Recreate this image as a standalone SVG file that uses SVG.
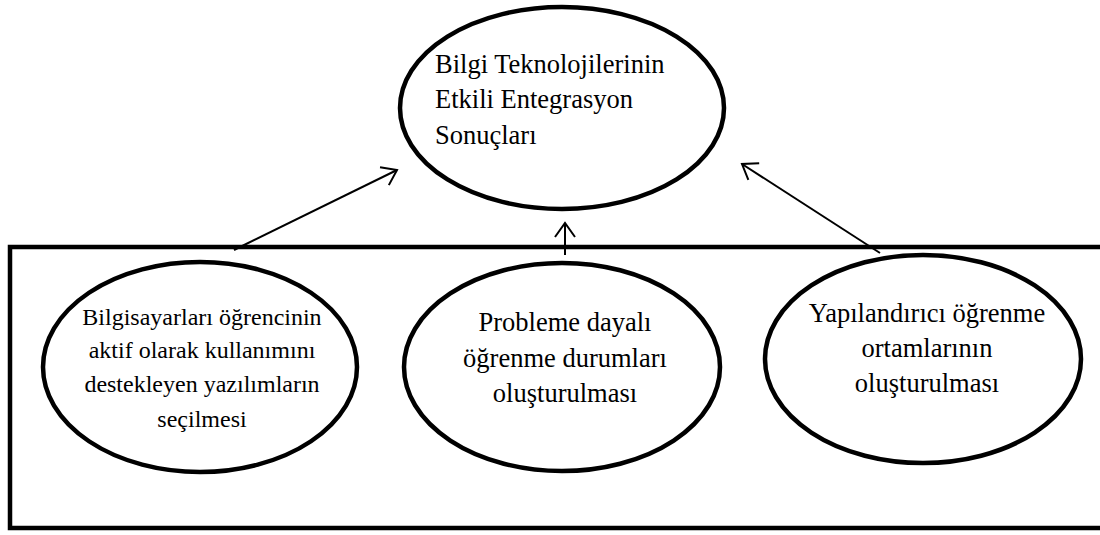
<svg xmlns="http://www.w3.org/2000/svg" width="1100" height="535" viewBox="0 0 1100 535">
<style>
.shape{fill:none;stroke:#000;stroke-width:4.5}
.conn{fill:none;stroke:#000;stroke-width:2}
text{font-family:"Liberation Serif","Times New Roman",serif;fill:#000}
.big{font-size:26.5px}
.small{font-size:24px}
.c{text-anchor:middle}
</style>
<defs>
<marker id="arr" markerUnits="userSpaceOnUse" markerWidth="20" markerHeight="24" viewBox="-2 -2 20 24" refX="15" refY="10" orient="auto">
<path d="M1,0 L15,10 L1,20" fill="none" stroke="#000" stroke-width="2"/>
</marker>
</defs>
<rect class="shape" x="10" y="247" width="1110" height="281"/>
<g id="connectors">
<line class="conn" x1="234" y1="250" x2="397" y2="170" marker-end="url(#arr)"/>
<line class="conn" x1="565" y1="255" x2="565" y2="223" marker-end="url(#arr)"/>
<line class="conn" x1="880" y1="253" x2="742" y2="164" marker-end="url(#arr)"/>
</g>
<g id="top">
<ellipse class="shape" cx="562" cy="108" rx="162" ry="101"/>
<text class="big" x="435" y="73">Bilgi Teknolojilerinin</text>
<text class="big" x="435" y="108">Etkili Entegrasyon</text>
<text class="big" x="435" y="144">Sonuçları</text>
</g>
<g id="left">
<ellipse class="shape" cx="200" cy="367" rx="157" ry="105"/>
<text class="small c" x="202" y="325">Bilgisayarları öğrencinin</text>
<text class="small c" x="202" y="358">aktif olarak kullanımını</text>
<text class="small c" x="202" y="392">destekleyen yazılımların</text>
<text class="small c" x="202" y="427">seçilmesi</text>
</g>
<g id="middle">
<ellipse class="shape" cx="562" cy="367" rx="158" ry="104"/>
<text class="big c" x="565" y="331">Probleme dayalı</text>
<text class="big c" x="565" y="367">öğrenme durumları</text>
<text class="big c" x="565" y="402">oluşturulması</text>
</g>
<g id="right">
<ellipse class="shape" cx="923" cy="359" rx="158" ry="104"/>
<text class="big c" x="927" y="322">Yapılandırıcı öğrenme</text>
<text class="big c" x="927" y="357">ortamlarının</text>
<text class="big c" x="927" y="392">oluşturulması</text>
</g>
</svg>
